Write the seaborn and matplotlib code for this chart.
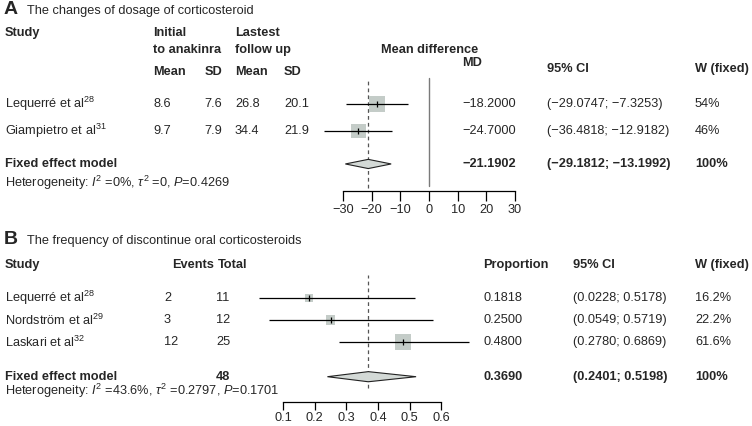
import matplotlib

matplotlib.use("Agg")
import matplotlib.pyplot as plt
import matplotlib.transforms as mtransforms
import numpy as np
import pandas as pd
import seaborn as sns

# --------------------------------------------------------------------------- #
# Data
# --------------------------------------------------------------------------- #
# Panel A: change in corticosteroid dose
a_study = ["Lequerré et al$^{28}$", "Giampietro et al$^{31}$"]
a_init_mean = [8.6, 9.7]
a_init_sd = [7.6, 7.9]
a_last_mean = [26.8, 34.4]
a_last_sd = [20.1, 21.9]
a_md = [-18.2, -24.7]
a_lo = [-29.0747, -36.4818]
a_hi = [-7.3253, -12.9182]
a_weight = [54, 46]
a_pooled = [-21.1902, -29.1812, -13.1992]   # estimate, lower, upper
a_ticks = [-30, -20, -10, 0, 10, 20, 30]
a_het = "Heterogeneity: $I^2$ =0%, $\\tau^2$ =0, $P$=0.4269"

# Panel B: proportion discontinuing oral corticosteroids
b_study = ["Lequerré et al$^{28}$", "Nordström et al$^{29}$", "Laskari et al$^{32}$"]
b_events = [2, 3, 12]
b_total = [11, 12, 25]
b_prop = [0.1818, 0.2500, 0.4800]
b_lo = [0.0228, 0.0549, 0.2780]
b_hi = [0.5178, 0.5719, 0.6869]
b_weight = [16.2, 22.2, 61.6]
b_pooled = [0.3690, 0.2401, 0.5198]
b_pooled_total = 48
b_ticks = [0.1, 0.2, 0.3, 0.4, 0.5, 0.6]
b_het = "Heterogeneity: $I^2$ =43.6%, $\\tau^2$ =0.2797, $P$=0.1701"

# --------------------------------------------------------------------------- #
# Style
# --------------------------------------------------------------------------- #
sns.set_theme(style="white")
plt.rcParams["font.family"] = ["Liberation Sans", "DejaVu Sans"]
plt.rcParams["mathtext.fontset"] = "custom"
plt.rcParams["mathtext.rm"] = "Liberation Sans"
plt.rcParams["mathtext.it"] = "Liberation Sans:italic"
plt.rcParams["mathtext.bf"] = "Liberation Sans:bold"

W, H = 752, 426
FS = 9.2
BOX = "#c4ccc8"
DIAMOND = "#d3d9d6"

fig = plt.figure(figsize=(W / 100, H / 100), dpi=100)


def rect(x0, y0, x1, y1):
    """Axes rect from pixel corners (top-left origin)."""
    return [x0 / W, 1 - y1 / H, (x1 - x0) / W, (y1 - y0) / H]


def put(x, y, s, **kw):
    kw.setdefault("fontsize", FS)
    fig.text(x / W, 1 - y / H, s, va="center", **kw)


def fmt(v, nd=4):
    return f"{v:.{nd}f}".replace("-", "\u2212")


def forest(ax, est, lo, hi, weight, rows, pooled, pooled_row, dh, max_side_pt):
    df = pd.DataFrame({"est": est, "row": rows, "w": weight})
    sizes = {w: (max_side_pt * np.sqrt(w / max(weight))) ** 2 for w in weight}
    sns.scatterplot(data=df, x="est", y="row", size="w", sizes=sizes, marker="s",
                    color=BOX, linewidth=0, legend=False, ax=ax, zorder=2)
    ax.hlines(rows, lo, hi, color="black", lw=0.9, zorder=3)
    sns.scatterplot(data=df, x="est", y="row", marker="|", s=18, color="black",
                    linewidth=0.9, legend=False, ax=ax, zorder=4)
    e, l, h = pooled
    ax.fill([l, e, h, e], [pooled_row, pooled_row - dh, pooled_row, pooled_row + dh],
            facecolor=DIAMOND, edgecolor="#222222", lw=0.8, zorder=3)


def style_axis(ax, ticks, length=7, pad=2.5):
    sns.despine(ax=ax, left=True)
    ax.spines["bottom"].set_bounds(ticks[0], ticks[-1])
    ax.spines["bottom"].set_color("black")
    ax.spines["bottom"].set_linewidth(0.9)
    ax.set_xticks(ticks)
    ax.set_xticklabels([f"{t:g}".replace("-", "\u2212") for t in ticks])
    ax.tick_params(axis="x", direction="out", length=length, width=0.9, color="black",
                   labelsize=FS, pad=pad, bottom=True)
    ax.set_yticks([])
    ax.set_xlabel("")
    ax.set_ylabel("")
    ax.patch.set_alpha(0)


def row_text(tr, x, y, s, **kw):
    kw.setdefault("fontsize", FS)
    fig.text(x / W, y, s, transform=tr, va="center", **kw)


# --------------------------------------------------------------------------- #
# Panel A
# --------------------------------------------------------------------------- #
a_rows = [0, 1]
a_pool_row = 2.22
axA = fig.add_axes(rect(300, 75, 558, 191))
axA.axvline(0, ymin=0.043, ymax=0.974, color="#7a7a7a", lw=1.0, zorder=1)
axA.axvline(a_pooled[0], ymin=0.026, ymax=0.974, color="#555555", lw=0.9,
            ls=(0, (3, 2.5)), zorder=1)
forest(axA, a_md, a_lo, a_hi, a_weight, a_rows, a_pooled, a_pool_row, 0.17, 11.5)
style_axis(axA, a_ticks)
axA.set_xlim(-45, 45)
axA.set_ylim(3.22, -1.07)

put(4, 10, "A", fontsize=14, fontweight="bold")
put(27, 11, "The changes of dosage of corticosteroid")
put(5, 33, "Study", fontweight="bold")
put(153, 33, "Initial", fontweight="bold")
put(153, 50, "to anakinra", fontweight="bold")
put(235, 33, "Lastest", fontweight="bold")
put(235, 50, "follow up", fontweight="bold")
put(153, 72, "Mean", fontweight="bold")
put(222, 72, "SD", fontweight="bold", ha="right")
put(235, 72, "Mean", fontweight="bold")
put(284, 72, "SD", fontweight="bold")
put(430, 50, "Mean difference", fontweight="bold", ha="center")
put(462, 63, "MD", fontweight="bold")
put(547, 69, "95% CI", fontweight="bold")
put(695, 69, "W (fixed)", fontweight="bold")

trA = mtransforms.blended_transform_factory(fig.transFigure, axA.transData)
for i, r in enumerate(a_rows):
    row_text(trA, 5, r, a_study[i])
    row_text(trA, 153, r, f"{a_init_mean[i]:.1f}")
    row_text(trA, 222, r, f"{a_init_sd[i]:.1f}", ha="right")
    row_text(trA, 235, r, f"{a_last_mean[i]:.1f}")
    row_text(trA, 284, r, f"{a_last_sd[i]:.1f}")
    row_text(trA, 462, r, fmt(a_md[i]))
    row_text(trA, 547, r, f"({fmt(a_lo[i])}; {fmt(a_hi[i])})")
    row_text(trA, 695, r, f"{a_weight[i]}%")

row_text(trA, 5, a_pool_row, "Fixed effect model", fontweight="bold")
row_text(trA, 462, a_pool_row, fmt(a_pooled[0]), fontweight="bold")
row_text(trA, 547, a_pool_row, f"({fmt(a_pooled[1])}; {fmt(a_pooled[2])})", fontweight="bold")
row_text(trA, 695, a_pool_row, "100%", fontweight="bold")
put(5, 183, a_het)

# --------------------------------------------------------------------------- #
# Panel B
# --------------------------------------------------------------------------- #
b_rows = [0, 1, 2]
b_pool_row = 3.58
axB = fig.add_axes(rect(219.6, 270, 504.9, 402))
axB.axvline(b_pooled[0], ymin=0.105, ymax=0.962, color="#555555", lw=0.9,
            ls=(0, (3, 2.5)), zorder=1)
forest(axB, b_prop, b_lo, b_hi, b_weight, b_rows, b_pooled, b_pool_row, 0.23, 11.5)
style_axis(axB, b_ticks, length=6, pad=1.5)
axB.set_xlim(-0.1, 0.8)
axB.set_ylim(4.73, -1.27)

put(4, 240, "B", fontsize=14, fontweight="bold")
put(27, 241, "The frequency of discontinue oral corticosteroids")
put(5, 265, "Study", fontweight="bold")
put(172, 265, "Events", fontweight="bold")
put(218, 265, "Total", fontweight="bold")
put(483, 265, "Proportion", fontweight="bold")
put(573, 265, "95% CI", fontweight="bold")
put(695, 265, "W (fixed)", fontweight="bold")

trB = mtransforms.blended_transform_factory(fig.transFigure, axB.transData)
for i, r in enumerate(b_rows):
    row_text(trB, 5, r, b_study[i])
    row_text(trB, 164, r, f"{b_events[i]}")
    row_text(trB, 216, r, f"{b_total[i]}")
    row_text(trB, 483, r, fmt(b_prop[i]))
    row_text(trB, 573, r, f"({fmt(b_lo[i])}; {fmt(b_hi[i])})")
    row_text(trB, 695, r, f"{b_weight[i]:.1f}%")

row_text(trB, 5, b_pool_row, "Fixed effect model", fontweight="bold")
row_text(trB, 216, b_pool_row, f"{b_pooled_total}", fontweight="bold")
row_text(trB, 483, b_pool_row, fmt(b_pooled[0]), fontweight="bold")
row_text(trB, 573, b_pool_row, f"({fmt(b_pooled[1])}; {fmt(b_pooled[2])})", fontweight="bold")
row_text(trB, 695, b_pool_row, "100%", fontweight="bold")
put(5, 391, b_het)

fig.savefig("out.png", dpi=100)
plt.close(fig)
